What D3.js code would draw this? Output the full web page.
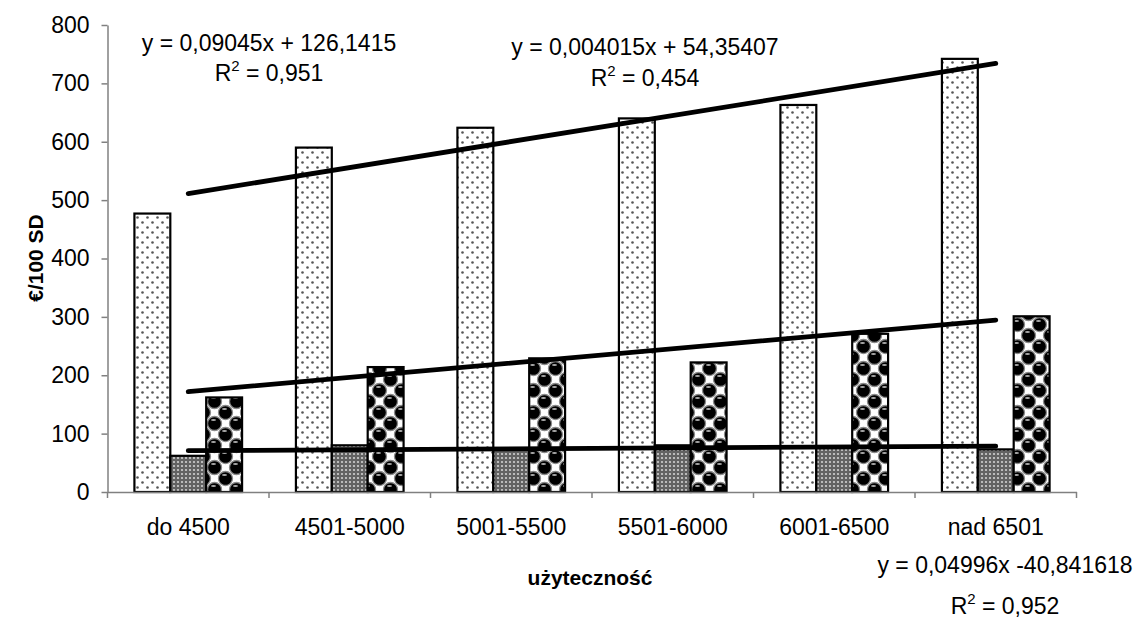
<!DOCTYPE html>
<html>
<head>
<meta charset="utf-8">
<script src="https://cdn.jsdelivr.net/npm/d3@7"></script>
<style>
	body{margin:0;background:#fff;}
	svg{display:block;font-family:"Liberation Sans",Arial,sans-serif;}
</style>
</head>
<body>
<div id="chart"></div>
<script>

// categories (x axis) and the three series of bars
const categories = ["do 4500","4501-5000","5001-5500","5501-6000","6001-6500","nad 6501"];
const seriesA = [477, 590, 624, 640, 663, 742];
const seriesB = [62, 80, 75, 80, 78, 73];
const seriesC = [162, 214, 229, 222, 271, 301];
const yTicks = [0,100,200,300,400,500,600,700,800];

// trendline labels as printed on the chart
const eqA = ["y = 0,09045x + 126,1415", "0,951"];
const eqC = ["y = 0,004015x + 54,35407", "0,454"];
const eqB = ["y = 0,04996x -40,841618", "0,952"];

const W = 1143, H = 619;
const mLeft = 107.5, mRight = 1076.5, mTop = 25, mBottom = 492;
const fs = 23;

const svg = d3.select("#chart").append("svg")
	.attr("width",W).attr("height",H)
	.attr("viewBox","0 0 "+W+" "+H);

const X = d3.scaleBand().domain(categories).range([mLeft,mRight]).padding(0);
const Xs = d3.scaleBand().domain([0,1,2]).range([0,X.bandwidth()]).paddingInner(0).paddingOuter(0.75);
const Y = d3.scaleLinear().domain([0,800]).range([mBottom,mTop]);

// fill patterns (imitating the old excel hatches)
const defs = svg.append("defs");

const pA = defs.append("pattern").attr("id","pA").attr("patternUnits","userSpaceOnUse")
	.attr("width",10).attr("height",10);
pA.append("rect").attr("width",10).attr("height",10).style("fill","#fff");
pA.selectAll("circle").data([[2.5,2.5],[7.5,7.5]]).enter().append("circle")
	.attr("cx",d=>d[0]).attr("cy",d=>d[1]).attr("r",1.3).style("fill","#555");

const pB = defs.append("pattern").attr("id","pB").attr("patternUnits","userSpaceOnUse")
	.attr("width",4).attr("height",4);
pB.append("rect").attr("width",4).attr("height",4).style("fill","#626262");
pB.append("circle").attr("cx",2).attr("cy",2).attr("r",1.1).style("fill","#cfcfcf");

const pC = defs.append("pattern").attr("id","pC").attr("patternUnits","userSpaceOnUse")
	.attr("width",22).attr("height",22);
pC.append("rect").attr("width",22).attr("height",22).style("fill","#fff");
pC.selectAll("circle.ball").data([[16.5,5.5],[5.5,16.5],[-5.5,5.5],[5.5,-5.5],[27.5,16.5],[16.5,27.5]]).enter().append("circle")
	.attr("class","ball")
	.attr("cx",d=>d[0]).attr("cy",d=>d[1]).attr("r",7)
	.style("fill","#000").style("stroke","#8a8a8a").style("stroke-width",1.3);
pC.selectAll("ellipse").data([[16.5,5.5],[5.5,16.5]]).enter().append("ellipse")
	.attr("cx",d=>d[0]-1).attr("cy",d=>d[1]-3.5).attr("rx",2.5).attr("ry",1)
	.style("fill","#aaa");

const series = [
	{vals:seriesA, fill:"url(#pA)"},
	{vals:seriesB, fill:"url(#pB)"},
	{vals:seriesC, fill:"url(#pC)"}
];

// bars
series.forEach(function(s,k){
	svg.append("g").selectAll("rect").data(s.vals).enter().append("rect")
		.attr("x",(d,i)=>X(categories[i])+Xs(k))
		.attr("y",d=>Y(d))
		.attr("width",Xs.bandwidth())
		.attr("height",d=>Y(0)-Y(d))
		.style("fill",s.fill)
		.style("stroke","#000")
		.style("stroke-width",2.2);
});

// axes
const yAxis = svg.append("g").attr("transform","translate("+mLeft+",0)")
	.call(d3.axisLeft(Y).tickValues(yTicks).tickSize(6).tickSizeOuter(0).tickPadding(12));
yAxis.select(".domain").style("stroke","#808080").style("stroke-width",1.5);
yAxis.selectAll(".tick line").style("stroke","#808080").style("stroke-width",1.5);
yAxis.selectAll("text").style("font-size",fs+"px").style("fill","#000").style("font-family","Liberation Sans");

const xAxis = svg.append("g").attr("transform","translate(0,"+mBottom+")")
	.call(d3.axisBottom(X).tickSize(0).tickSizeOuter(0).tickPadding(27));
xAxis.select(".domain").style("stroke","#808080").style("stroke-width",1.5);
xAxis.selectAll("text").style("font-size",fs+"px").style("fill","#000").style("font-family","Liberation Sans");
xAxis.selectAll(".bound").data(d3.range(categories.length+1)).enter().append("line")
	.attr("x1",i=>mLeft+i*X.step()).attr("x2",i=>mLeft+i*X.step())
	.attr("y1",0).attr("y2",6)
	.style("stroke","#808080").style("stroke-width",1.5);

// linear trendlines, least squares on category index 1..6
function fit(vals){
	const xs = vals.map((d,i)=>i+1);
	const mx = d3.mean(xs), my = d3.mean(vals);
	const b = d3.sum(xs,(x,i)=>(x-mx)*(vals[i]-my))/d3.sum(xs,x=>(x-mx)*(x-mx));
	return xs.map(x=>my+b*(x-mx));
}
series.forEach(function(s){
	const t = fit(s.vals);
	const n = t.length;
	svg.append("line")
		.attr("x1",X(categories[0])+X.bandwidth()/2).attr("y1",Y(t[0]))
		.attr("x2",X(categories[n-1])+X.bandwidth()/2).attr("y2",Y(t[n-1]))
		.style("stroke","#000").style("stroke-width",4.8).style("stroke-linecap","round");
});

// equation labels
function eq(txt,x,y,gap){
	const g = svg.append("g").attr("transform","translate("+x+","+y+")")
		.style("font-size",fs+"px").style("text-anchor","middle");
	g.append("text").attr("y",0).text(txt[0]);
	const r = g.append("text").attr("y",gap);
	r.append("tspan").text("R");
	r.append("tspan").attr("dy",-10).style("font-size","15px").text("2");
	r.append("tspan").attr("dy",10).text(" = "+txt[1]);
}
eq(eqA,269,51,30);
eq(eqC,645,55,31);
eq(eqB,1005,573,41);

// axis titles
svg.append("text").attr("transform","translate(43,258) rotate(-90)")
	.style("text-anchor","middle").style("font-weight","bold").style("font-size","21px")
	.text("€/100 SD");
svg.append("text").attr("x",590).attr("y",585)
	.style("text-anchor","middle").style("font-weight","bold").style("font-size","21px")
	.text("użyteczność");

</script>
</body>
</html>
